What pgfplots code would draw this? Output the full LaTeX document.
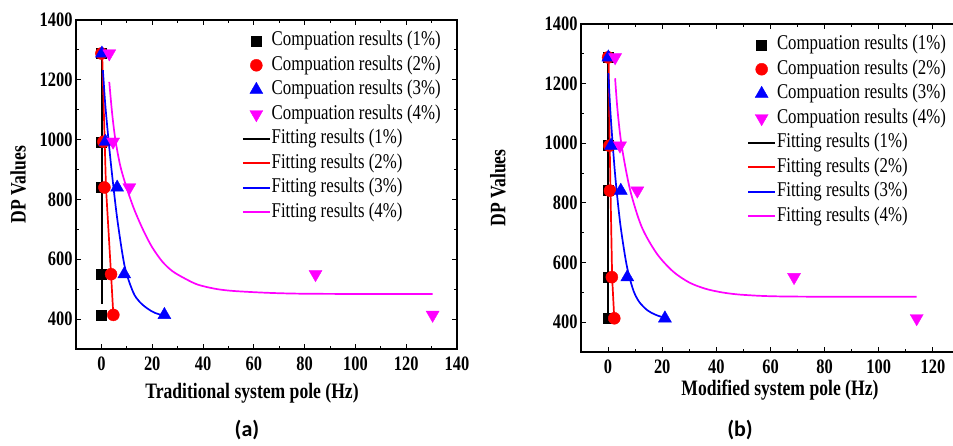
\documentclass[border=0pt]{standalone}
\usepackage{pgfplots}
\pgfplotsset{compat=1.18}
\usepackage{fontspec}
\setmainfont{Liberation Serif}[FakeStretch=0.8, BoldFont={Liberation Serif Bold}, BoldFeatures={FakeStretch=0.8}]
\newfontfamily\capfont{Carlito}
\definecolor{mag}{RGB}{255,0,255}
\pgfplotsset{
  myimg/.style={legend image code/.code={\draw[mark repeat=2,mark phase=2,##1] plot coordinates {(0pt,0pt)(13.5pt,0pt)(27pt,0pt)};}},
  panel/.style={
    scale only axis,
    xmin=-10, ymin=300, ymax=1400,
    ytick={400,600,...,1400},
    xtick={0,20,...,140},
    minor x tick num=1, minor y tick num=1,
    tick align=inside,
    major tick length=5pt, minor tick length=3pt,
    every tick/.style={black, line width=1pt},
    axis line style={line width=1.3pt},
    /pgf/number format/assume math mode=true,
    /pgf/number format/1000 sep={},
    ticklabel style={font=\fontsize{20.5}{22}\selectfont\bfseries},
    xticklabel style={yshift=-4pt},
    label style={font=\fontsize{22}{24}\selectfont\bfseries},
    ylabel={DP Values},
    legend cell align=left,
    legend style={draw=none, fill=none, anchor=north west, inner sep=0pt, outer sep=0pt, row sep=2pt,
      nodes={inner sep=1pt, text height=15pt, text depth=5.5pt, font=\fontsize{21}{24}\selectfont}},
    myimg,
    clip=false,
  },
  sq/.style={only marks, mark=square*, mark size=5pt, black, myimg},
  ci/.style={only marks, mark=*, mark size=6pt, red, myimg},
  tu/.style={only marks, mark=triangle*, mark size=7.5pt, blue, myimg},
  td/.style={only marks, mark=triangle*, mark size=7.5pt, mark options={rotate=180}, mag, myimg},
  fit/.style={no marks, line width=1.7pt},
}
\begin{document}
\begin{tikzpicture}
% ---------------- panel (a)
\begin{axis}[panel, at={(76pt,97pt)}, anchor=south west, width=381pt, height=329pt, xmax=140,
  xlabel={Traditional system pole (Hz)},
  xlabel style={at={(axis description cs:0.462,-0.134)}, anchor=center},
  ylabel style={at={(axis description cs:-0.152,0.5)}, anchor=center},
  legend style={at={(rel axis cs:0.4357,0.971)}}]
\addplot[sq] coordinates {(0,1288)(0,993)(0,840)(0,550)(0,414)};
\addlegendentry{Compuation results (1\%)}
\addplot[ci] coordinates {(0,1288)(0.8,993)(1.2,840)(3.8,550)(4.7,414)};
\addlegendentry{Compuation results (2\%)}
\addplot[tu] coordinates {(0.2,1288)(1.6,993)(6.2,840)(9.0,550)(24.8,414)};
\addlegendentry{Compuation results (3\%)}
\addplot[td] coordinates {(3.1,1288)(4.6,993)(11.0,840)(84.3,550)(130.4,414)};
\addlegendentry{Compuation results (4\%)}
\addplot[fit, black] coordinates {(0.3,450)(0.3,1290)};
\addlegendentry{Fitting results (1\%)}
\addplot[fit, red] coordinates {(0.3,1288)(1.3,993)(1.8,840)(3.8,550)(4.7,414)};
\addlegendentry{Fitting results (2\%)}
\addplot[fit, blue, smooth] coordinates {(0.6,1232)(1.5,1120)(2.9,990)(4.5,860)(6.4,725)(9.2,575)(12.5,490)(15,458)(18,436)(21,421)(24.8,411)};
\addlegendentry{Fitting results (3\%)}
\addplot[fit, mag, smooth] coordinates {(3.1,1193)(4.2,1090)(5.5,1000)(7.5,910)(10.1,835)(13,765)(16.6,695)(20,640)(24,592)(28,560)(33,535)(38,515)(45,501)(52,494)(65,488)(78,485)(100,484)(130.4,484)};
\addlegendentry{Fitting results (4\%)}
\end{axis}
% ---------------- panel (b)
\begin{axis}[panel, at={(581pt,94pt)}, anchor=south west, width=379pt, height=328pt, xmax=130,
  xlabel={Modified system pole (Hz)},
  xlabel style={at={(axis description cs:0.525,-0.116)}, anchor=center},
  ylabel style={at={(axis description cs:-0.219,0.5)}, anchor=center},
  legend style={at={(rel axis cs:0.4388,0.971)}}]
\addplot[sq] coordinates {(0,1288)(0,992)(0,841)(0,551)(0,413)};
\addlegendentry{Compuation results (1\%)}
\addplot[ci] coordinates {(0,1288)(0.5,992)(0.7,841)(1.4,551)(2.3,413)};
\addlegendentry{Compuation results (2\%)}
\addplot[tu] coordinates {(0.1,1288)(1.1,992)(4.7,841)(7.1,551)(21.0,413)};
\addlegendentry{Compuation results (3\%)}
\addplot[td] coordinates {(2.6,1288)(4.4,992)(10.8,841)(68.7,551)(114,413)};
\addlegendentry{Compuation results (4\%)}
\addplot[fit, black] coordinates {(0,405)(0,1290)};
\addlegendentry{Fitting results (1\%)}
\addplot[fit, red] coordinates {(0.2,1288)(0.6,992)(0.9,841)(1.5,551)(2.3,410)};
\addlegendentry{Fitting results (2\%)}
\addplot[fit, blue, smooth] coordinates {(0.1,1235)(0.8,1115)(1.8,985)(2.9,865)(4.5,730)(6.3,620)(7.5,565)(9.4,505)(11.5,468)(14.5,440)(17.5,425)(21,414)};
\addlegendentry{Fitting results (3\%)}
\addplot[fit, mag, smooth] coordinates {(2.6,1218)(3.5,1110)(5.0,993)(8.1,845)(12.4,720)(18,630)(24,570)(30,533)(36,512)(42,500)(48,493)(57,488)(67,486)(90,485)(114,485)};
\addlegendentry{Fitting results (4\%)}
\end{axis}
\node[font=\capfont\fontsize{22}{24}\selectfont\bfseries, anchor=center] at (247pt,16pt) {(a)};
\node[font=\capfont\fontsize{22}{24}\selectfont\bfseries, anchor=center] at (740pt,16pt) {(b)};
\pgfresetboundingbox
\useasboundingbox (0pt,0pt) rectangle (953pt,446pt);
\end{tikzpicture}
\end{document}
